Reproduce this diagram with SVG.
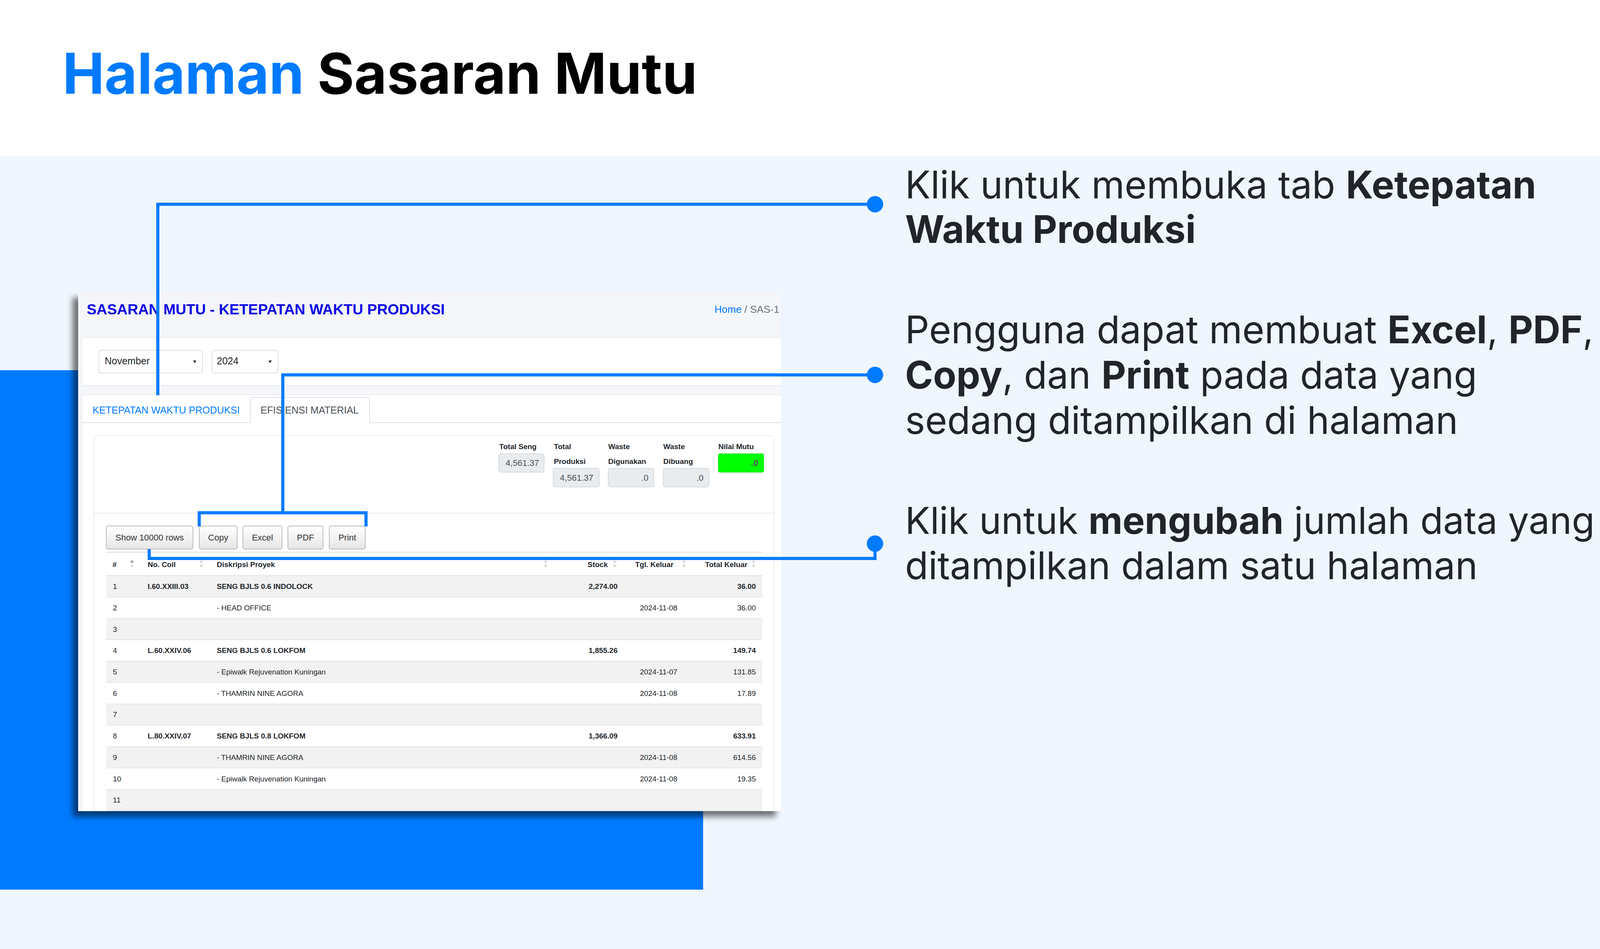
<svg xmlns="http://www.w3.org/2000/svg" width="4320" height="2430" viewBox="0 0 4320 2430">
<defs>
<style>
.slide{font-family:Inter,"Noto Sans","Liberation Sans",sans-serif;fill:#212529}
.b{font-weight:700}
.ui{font-family:"Liberation Sans",Arial,sans-serif}
.td{font-family:"Liberation Sans",Arial,sans-serif;font-size:19px;fill:#212529}
.th{font-family:"Liberation Sans",Arial,sans-serif;font-size:19px;font-weight:700;fill:#212529}
.end{text-anchor:end}
.mid{text-anchor:middle}
.odd{fill:#f2f2f2}
.rowline{stroke:#dee2e6;stroke-width:1.5}
.box{fill:#e9ecef;stroke:#ced4da;stroke-width:1.5}
.val{font-family:"Liberation Sans",Arial,sans-serif;font-size:22px;fill:#495057;text-anchor:end}
.btn{fill:url(#btnGrad);stroke:#a8a8a8;stroke-width:1.5}
.btxt{font-family:"Liberation Sans",Arial,sans-serif;font-size:22px;fill:#333;text-anchor:middle}
.sortOff{fill:#d6d6d6}
.sortOn{fill:#9a9a9a}
.conn{fill:none;stroke:#007BFF;stroke-width:8}
.dot{fill:#007BFF}
.note{font-size:97px}
</style>
<linearGradient id="btnGrad" x1="0" y1="0" x2="0" y2="1">
<stop offset="0" stop-color="#ffffff"/>
<stop offset="1" stop-color="#e6e6e6"/>
</linearGradient>
<filter id="shot" x="-10%" y="-10%" width="120%" height="120%">
<feDropShadow dx="-14" dy="14" stdDeviation="8" flood-color="#000" flood-opacity="0.55"/>
</filter>
<clipPath id="shotClip"><rect x="200" y="748" width="1800" height="1329"/></clipPath>
<g id="sortPair"><polygon points="-4.5,8 4.5,8 0,0"/><polygon points="-4.5,13 4.5,13 0,21"/></g>
</defs>

<!-- background -->
<rect x="0" y="0" width="4320" height="2430" fill="#EFF6FE"/>
<rect x="0" y="0" width="4320" height="400" fill="#ffffff"/>
<rect x="4240" y="0" width="80" height="400" fill="#007BFF"/>
<rect x="0" y="948" width="1800" height="1330" fill="#007BFF"/>

<g id="title">
<text class="slide b" x="160" y="240" font-size="144"><tspan fill="#007BFF">Halaman</tspan> <tspan fill="#000">Sasaran Mutu</tspan></text>
</g>

<!-- screenshot -->
<g id="screenshot">
<rect x="200" y="748" width="1800" height="1329" fill="#f4f6f9" filter="url(#shot)"/>
<g clip-path="url(#shotClip)">
<rect x="200" y="748" width="1800" height="1329" fill="#f4f6f9"/>
<text class="ui" x="222" y="805" font-size="37.6" font-weight="700" fill="#0a00e6">SASARAN MUTU - KETEPATAN WAKTU PRODUKSI</text>
<text class="ui" x="1829" y="801" font-size="26"><tspan fill="#007bff">Home</tspan><tspan fill="#6c757d"> / SAS-1</tspan></text>

<g id="filterCard">
<rect x="209" y="864" width="1810" height="123" rx="5" fill="#ffffff" stroke="#e3e6ea" stroke-width="1.5"/>
<rect x="253" y="897" width="265" height="58" rx="5" fill="#ffffff" stroke="#ced4da" stroke-width="1.5"/>
<text class="ui" x="268" y="933" font-size="25" fill="#212529">November</text>
<polygon points="494,923 503,923 498.5,930" fill="#333"/>
<rect x="543" y="897" width="169" height="58" rx="5" fill="#ffffff" stroke="#ced4da" stroke-width="1.5"/>
<text class="ui" x="555" y="933" font-size="25" fill="#212529">2024</text>
<polygon points="687,923 696,923 691.5,930" fill="#333"/>
</g>

<g id="tabCard">
<rect x="209" y="1011" width="1810" height="1100" rx="5" fill="#ffffff" stroke="#e3e6ea" stroke-width="1.5"/>
<text class="ui" x="237" y="1059" font-size="25" fill="#007bff">KETEPATAN WAKTU PRODUKSI</text>
<path d="M642 1082 V1023 Q642 1018 647 1018 H941 Q946 1018 946 1023 V1082" fill="#ffffff" stroke="#dee2e6" stroke-width="2"/>
<text class="ui" x="667" y="1059" font-size="25" fill="#495057">EFISIENSI MATERIAL</text>
<path d="M209 1082 H642 M946 1082 H2000" stroke="#dee2e6" stroke-width="2.5"/>
</g>

<g id="innerCard">
<rect x="241" y="1115" width="1741" height="1000" rx="6" fill="#ffffff" stroke="#e6e8eb" stroke-width="1.5"/>
<line x1="241" y1="1314" x2="1982" y2="1314" stroke="#e6e8eb" stroke-width="2"/>
</g>

<g id="stats">
<text class="th" x="1278" y="1150">Total Seng</text>
<rect class="box" x="1277" y="1162" width="116" height="47" rx="5"/>
<text class="val" x="1380" y="1193">4,561.37</text>
<text class="th" x="1418" y="1150">Total</text>
<text class="th" x="1418" y="1188">Produksi</text>
<rect class="box" x="1416" y="1199" width="118" height="48" rx="5"/>
<text class="val" x="1519" y="1231">4,561.37</text>
<text class="th" x="1557" y="1150">Waste</text>
<text class="th" x="1557" y="1188">Digunakan</text>
<rect class="box" x="1557" y="1199" width="117" height="48" rx="5"/>
<text class="val" x="1660" y="1231">.0</text>
<text class="th" x="1698" y="1150">Waste</text>
<text class="th" x="1698" y="1188">Dibuang</text>
<rect class="box" x="1698" y="1199" width="117" height="48" rx="5"/>
<text class="val" x="1801" y="1231">.0</text>
<text class="th" x="1839" y="1150">Nilai Mutu</text>
<rect x="1839" y="1162" width="116" height="47" rx="4" fill="#00ff00" stroke="#00e000" stroke-width="1.5"/>
<text class="val" x="1941" y="1193" font-weight="700" fill="#000">.0</text>
</g>

<g id="buttons">
<rect class="btn" x="272" y="1347" width="222" height="59" rx="4"/>
<text class="btxt" x="383" y="1384">Show 10000 rows</text>
<rect class="btn" x="510" y="1347" width="97" height="59" rx="4"/>
<text class="btxt" x="558.5" y="1384">Copy</text>
<rect class="btn" x="622" y="1347" width="100" height="59" rx="4"/>
<text class="btxt" x="672" y="1384">Excel</text>
<rect class="btn" x="737" y="1347" width="90" height="59" rx="4"/>
<text class="btxt" x="782" y="1384">PDF</text>
<rect class="btn" x="843" y="1347" width="92" height="59" rx="4"/>
<text class="btxt" x="889" y="1384">Print</text>
</g>

<g id="table">
<line x1="272" y1="1414" x2="1951" y2="1414" stroke="#dee2e6" stroke-width="2.5"/>
<text class="th" x="288" y="1452">#</text>
<text class="th" x="378" y="1452">No. Coil</text>
<text class="th" x="555" y="1452">Diskripsi Proyek</text>
<text class="th end" x="1556" y="1452">Stock</text>
<text class="th" x="1626" y="1452">Tgl. Keluar</text>
<text class="th" x="1805" y="1452">Total Keluar</text>
<g transform="translate(338,1433)"><polygon class="sortOn" points="-4.5,8 4.5,8 0,0"/><polygon class="sortOff" points="-4.5,13 4.5,13 0,21"/></g>
<use href="#sortPair" class="sortOff" x="515" y="1433"/>
<use href="#sortPair" class="sortOff" x="1397" y="1433"/>
<use href="#sortPair" class="sortOff" x="1574" y="1433"/>
<use href="#sortPair" class="sortOff" x="1751" y="1433"/>
<use href="#sortPair" class="sortOff" x="1929" y="1433"/>
<line x1="272" y1="1474" x2="1951" y2="1474" stroke="#dee2e6" stroke-width="2.5"/>

<rect class="odd" x="272" y="1474.8" width="1679" height="53.9"/>
<rect class="odd" x="272" y="1583.5" width="1679" height="54.7"/>
<rect class="odd" x="272" y="1692.9" width="1679" height="54.8"/>
<rect class="odd" x="272" y="1802.4" width="1679" height="54.7"/>
<rect class="odd" x="272" y="1911.8" width="1679" height="54.8"/>
<rect class="odd" x="272" y="2021.3" width="1679" height="54.7"/>
<path class="rowline" d="M272 1528.7H1951M272 1583.5H1951M272 1638.2H1951M272 1692.9H1951M272 1747.7H1951M272 1802.4H1951M272 1857.1H1951M272 1911.8H1951M272 1966.6H1951M272 2021.3H1951M272 2076H1951"/>

<text class="td" x="289" y="1508">1</text>
<text class="th" x="378" y="1508">I.60.XXIII.03</text>
<text class="th" x="555" y="1508">SENG BJLS 0.6 INDOLOCK</text>
<text class="th end" x="1581" y="1508">2,274.00</text>
<text class="th end" x="1935" y="1508">36.00</text>

<text class="td" x="289" y="1562.7">2</text>
<text class="td" x="555" y="1562.7">- HEAD OFFICE</text>
<text class="td end" x="1734" y="1562.7">2024-11-08</text>
<text class="td end" x="1935" y="1562.7">36.00</text>

<text class="td" x="289" y="1617.5">3</text>

<text class="td" x="289" y="1672.2">4</text>
<text class="th" x="378" y="1672.2">L.60.XXIV.06</text>
<text class="th" x="555" y="1672.2">SENG BJLS 0.6 LOKFOM</text>
<text class="th end" x="1581" y="1672.2">1,855.26</text>
<text class="th end" x="1935" y="1672.2">149.74</text>

<text class="td" x="289" y="1726.9">5</text>
<text class="td" x="555" y="1726.9">- Epiwalk Rejuvenation Kuningan</text>
<text class="td end" x="1734" y="1726.9">2024-11-07</text>
<text class="td end" x="1935" y="1726.9">131.85</text>

<text class="td" x="289" y="1781.7">6</text>
<text class="td" x="555" y="1781.7">- THAMRIN NINE AGORA</text>
<text class="td end" x="1734" y="1781.7">2024-11-08</text>
<text class="td end" x="1935" y="1781.7">17.89</text>

<text class="td" x="289" y="1836.4">7</text>

<text class="td" x="289" y="1891.1">8</text>
<text class="th" x="378" y="1891.1">L.80.XXIV.07</text>
<text class="th" x="555" y="1891.1">SENG BJLS 0.8 LOKFOM</text>
<text class="th end" x="1581" y="1891.1">1,366.09</text>
<text class="th end" x="1935" y="1891.1">633.91</text>

<text class="td" x="289" y="1945.8">9</text>
<text class="td" x="555" y="1945.8">- THAMRIN NINE AGORA</text>
<text class="td end" x="1734" y="1945.8">2024-11-08</text>
<text class="td end" x="1935" y="1945.8">614.56</text>

<text class="td" x="289" y="2000.6">10</text>
<text class="td" x="555" y="2000.6">- Epiwalk Rejuvenation Kuningan</text>
<text class="td end" x="1734" y="2000.6">2024-11-08</text>
<text class="td end" x="1935" y="2000.6">19.35</text>

<text class="td" x="289" y="2055.3">11</text>
</g>
</g>
</g>

<!-- notes -->
<g id="note1">
<text class="slide note" x="2317" y="508">Klik untuk membuka tab <tspan class="b">Ketepatan</tspan></text>
<text class="slide note b" x="2317" y="622">Waktu Produksi</text>
</g>
<g id="note2">
<text class="slide note" x="2317" y="879">Pengguna dapat membuat <tspan class="b">Excel</tspan>, <tspan class="b">PDF</tspan>,</text>
<text class="slide note" x="2317" y="995"><tspan class="b">Copy</tspan>, dan <tspan class="b">Print</tspan> pada data yang</text>
<text class="slide note" x="2317" y="1111">sedang ditampilkan di halaman</text>
</g>
<g id="note3">
<text class="slide" font-size="95.5" x="2317" y="1367">Klik untuk <tspan class="b">mengubah</tspan> jumlah data yang</text>
<text class="slide note" x="2317" y="1483">ditampilkan dalam satu halaman</text>
</g>

<g id="connectors">
<path class="conn" d="M2240 523 H404 V1012"/>
<path class="conn" d="M2240 960 H724 V1313"/>
<path class="conn" d="M510 1348 V1313 H937 V1348"/>
<path class="conn" d="M382 1406 V1430 H2240 V1392"/>
<circle class="dot" cx="2240" cy="523" r="21"/>
<circle class="dot" cx="2240" cy="960" r="21"/>
<circle class="dot" cx="2240" cy="1392" r="21"/>
</g>
</svg>
